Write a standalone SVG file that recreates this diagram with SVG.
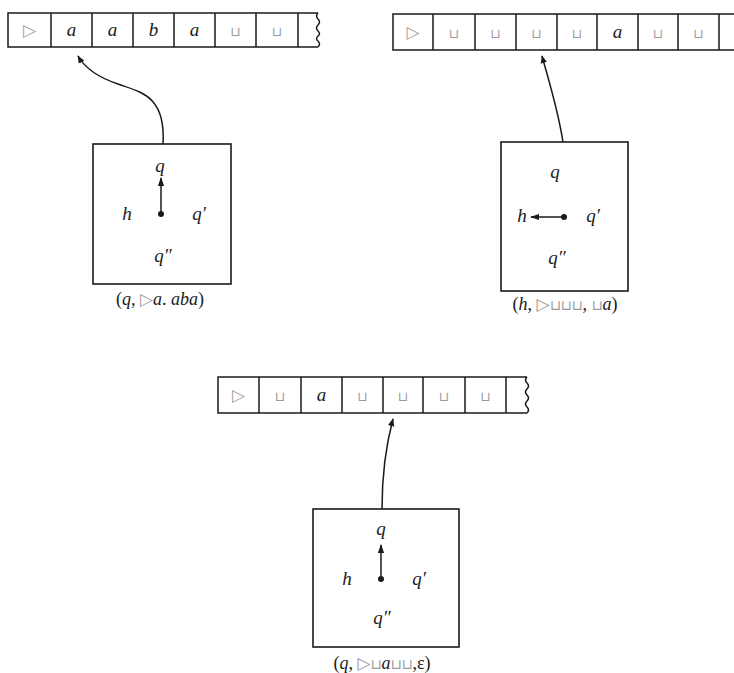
<svg xmlns="http://www.w3.org/2000/svg" width="734" height="673" viewBox="0 0 734 673">
<style>
.ln{fill:none;stroke:#1a1a1a;stroke-width:1.5}
.bx{fill:#fff;stroke:#1a1a1a;stroke-width:1.6}
.it{font-family:"Liberation Serif","DejaVu Serif",serif;font-style:italic;font-size:19px;fill:#1a1a1a;text-anchor:middle}
.sy{font-family:"DejaVu Sans",sans-serif;font-size:13px;fill:#9a9a9a;text-anchor:middle}
.tr{font-family:"DejaVu Sans",sans-serif;font-size:17px;fill:#a0a0a0;text-anchor:middle}
.lb{font-family:"Liberation Serif","DejaVu Serif",serif;font-size:18px;fill:#1a1a1a;text-anchor:middle}
.lb .i{font-style:italic}
.lb .g{font-family:"DejaVu Sans",sans-serif;font-size:14px;fill:#9a9a9a}
.lb .t{font-family:"DejaVu Sans",sans-serif;font-size:17px;fill:#9a9a9a}
.conn{fill:none;stroke:#1a1a1a;stroke-width:1.5}
</style>
<defs>
<marker id="ah" viewBox="0 0 10 10" refX="9" refY="5" markerWidth="8" markerHeight="8" markerUnits="userSpaceOnUse" orient="auto">
<path d="M0,1 L10,5 L0,9 Z" fill="#1a1a1a"/>
</marker>
<marker id="ah2" viewBox="0 0 10 10" refX="9" refY="5" markerWidth="9" markerHeight="9" markerUnits="userSpaceOnUse" orient="auto">
<path d="M0,1.5 L10,5 L0,8.5 Z" fill="#1a1a1a"/>
</marker>
</defs>

<g id="tape1">
<path class="ln" d="M318,13 L8,13 L8,47 L318,47"/>
<path class="ln" d="M51,13 V47 M92,13 V47 M133,13 V47 M174,13 V47 M215,13 V47 M256,13 V47 M298,13 V47"/>
<path class="ln" d="M318,13 q-3,3 0,6 q3,3 0,6 q-3,3 0,6 q3,3 0,5 q-3,3 0,5 q3,3 0,6"/>
<text class="tr" x="29.5" y="36">▷</text>
<text class="it" x="71.5" y="36">a</text>
<text class="it" x="112.5" y="36">a</text>
<text class="it" x="153.5" y="36">b</text>
<text class="it" x="194.5" y="36">a</text>
<text class="sy" x="235.5" y="36">⊔</text>
<text class="sy" x="277" y="36">⊔</text>
</g>

<g id="tape2">
<path class="ln" d="M734,14 L393,14 L393,50 L734,50"/>
<path class="ln" d="M433,14 V50 M475,14 V50 M516,14 V50 M557,14 V50 M597,14 V50 M638,14 V50 M678,14 V50 M719,14 V50"/>
<text class="tr" x="413" y="38">▷</text>
<text class="sy" x="454" y="38">⊔</text>
<text class="sy" x="495.5" y="38">⊔</text>
<text class="sy" x="536.5" y="38">⊔</text>
<text class="sy" x="577" y="38">⊔</text>
<text class="it" x="617.5" y="38">a</text>
<text class="sy" x="658" y="38">⊔</text>
<text class="sy" x="698.5" y="38">⊔</text>
</g>

<g id="tape3">
<path class="ln" d="M527,377 L218,377 L218,413 L527,413"/>
<path class="ln" d="M259,377 V413 M301,377 V413 M342,377 V413 M383,377 V413 M423,377 V413 M465,377 V413 M506,377 V413"/>
<path class="ln" d="M527,377 q-3,3 0,6 q3,3 0,6 q-3,3 0,6 q3,3 0,6 q-3,3 0,6 q3,3 0,6"/>
<text class="tr" x="238.5" y="401">▷</text>
<text class="sy" x="280" y="401">⊔</text>
<text class="it" x="321.5" y="401">a</text>
<text class="sy" x="362.5" y="401">⊔</text>
<text class="sy" x="403" y="401">⊔</text>
<text class="sy" x="444" y="401">⊔</text>
<text class="sy" x="485.5" y="401">⊔</text>
</g>

<g id="box1">
<rect class="bx" x="93" y="144" width="138" height="140"/>
<text class="it" x="160" y="172">q</text>
<text class="it" x="127" y="220">h</text>
<text class="it" x="199" y="220">q′</text>
<text class="it" x="163" y="262">q″</text>
<circle cx="161" cy="214" r="3" fill="#1a1a1a"/>
<line class="ln" x1="161" y1="214" x2="161" y2="178" marker-end="url(#ah2)"/>
<text class="lb" x="160" y="305">(<tspan class="i">q</tspan>, <tspan class="t">▷</tspan><tspan class="i">a</tspan>. <tspan class="i">aba</tspan>)</text>
</g>

<g id="box2">
<rect class="bx" x="501" y="142" width="127" height="149"/>
<text class="it" x="555" y="178">q</text>
<text class="it" x="522" y="222">h</text>
<text class="it" x="593" y="222">q′</text>
<text class="it" x="557" y="264">q″</text>
<circle cx="564" cy="217" r="3" fill="#1a1a1a"/>
<line class="ln" x1="564" y1="217" x2="531" y2="217" marker-end="url(#ah2)"/>
<text class="lb" x="565" y="310">(<tspan class="i">h</tspan>, <tspan class="t">▷</tspan><tspan class="g">⊔⊔⊔</tspan>, <tspan class="g">⊔</tspan><tspan class="i">a</tspan>)</text>
</g>

<g id="box3">
<rect class="bx" x="313" y="509" width="146" height="138"/>
<text class="it" x="381" y="535">q</text>
<text class="it" x="347" y="585">h</text>
<text class="it" x="419" y="585">q′</text>
<text class="it" x="382" y="624">q″</text>
<circle cx="381" cy="579" r="3" fill="#1a1a1a"/>
<line class="ln" x1="381" y1="579" x2="381" y2="545" marker-end="url(#ah2)"/>
<text class="lb" x="382" y="669">(<tspan class="i">q</tspan>, <tspan class="t">▷</tspan><tspan class="g">⊔</tspan><tspan class="i">a</tspan><tspan class="g">⊔⊔</tspan>,ε)</text>
</g>

<g id="connectors">
<path class="conn" d="M163,144 C166,95 140,92 118,84 C100,78 86,70 78,56" marker-end="url(#ah)"/>
<path class="conn" d="M563,142 C558,110 550,85 542,56" marker-end="url(#ah)"/>
<path class="conn" d="M382,509 C382,470 386,445 393,419" marker-end="url(#ah)"/>
</g>
</svg>
